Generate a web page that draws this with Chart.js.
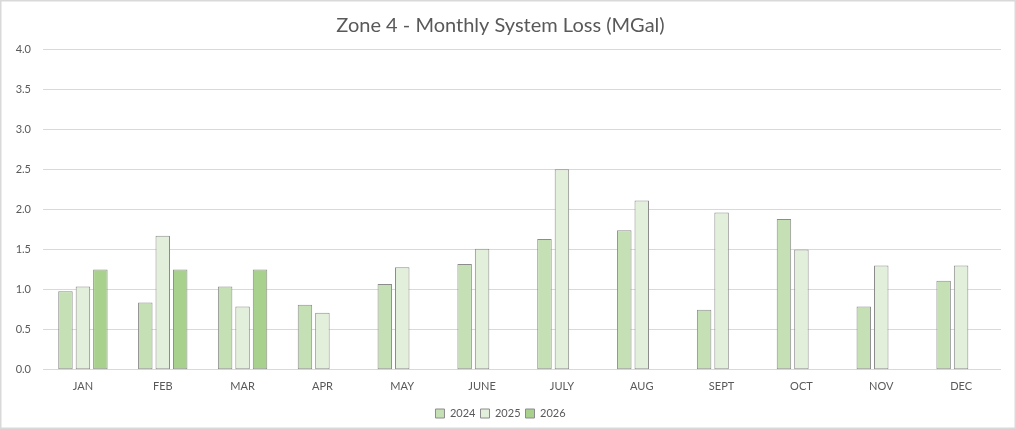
<!DOCTYPE html>
<html>
<head>
<meta charset="utf-8">
<title>Zone 4 - Monthly System Loss (MGal)</title>
<script src="https://cdn.jsdelivr.net/npm/chart.js@4.4.1/dist/chart.umd.min.js"></script>
<style>
  html, body { margin: 0; padding: 0; background: #ffffff; }
  #wrap { width: 1016px; height: 429px; position: relative; }
  canvas { display: block; }
</style>
</head>
<body>
<div id="wrap"><canvas id="chart" width="1016" height="429"></canvas></div>
<script>
// Months along the category axis
const months = ['JAN', 'FEB', 'MAR', 'APR', 'MAY', 'JUNE', 'JULY', 'AUG', 'SEPT', 'OCT', 'NOV', 'DEC'];

// Monthly system loss, million gallons
const loss2024 = [0.98, 0.84, 1.04, 0.81, 1.07, 1.32, 1.63, 1.74, 0.75, 1.88, 0.79, 1.11];
const loss2025 = [1.04, 1.67, 0.79, 0.71, 1.28, 1.51, 2.50, 2.11, 1.96, 1.50, 1.30, 1.30];
const loss2026 = [1.25, 1.25, 1.25, null, null, null, null, null, null, null, null, null];

// Value axis ticks
const yTicks = [0.0, 0.5, 1.0, 1.5, 2.0, 2.5, 3.0, 3.5, 4.0];

const textColor = '#595959';
const gridColor = '#d9d9d9';
const barEdge = '#8c8c8c';
const fontFamily = 'Lato, "Open Sans", "Liberation Sans", sans-serif';

// White background and thin frame around the chart area
const framePlugin = {
  id: 'frame',
  beforeDraw(chart) {
    const { ctx, width, height } = chart;
    ctx.save();
    ctx.fillStyle = '#ffffff';
    ctx.fillRect(0, 0, width, height);
    ctx.restore();
  },
  afterDraw(chart) {
    const { ctx, width, height } = chart;
    ctx.save();
    ctx.strokeStyle = '#d9d9d9';
    ctx.lineWidth = 1.5;
    ctx.strokeRect(0.75, 0.75, width - 1.5, height - 1.5);
    ctx.restore();
  }
};

const series = [
  { label: '2024', data: loss2024, backgroundColor: '#c5e0b4' },
  { label: '2025', data: loss2025, backgroundColor: '#e2efda' },
  { label: '2026', data: loss2026, backgroundColor: '#a9d18e' }
];

new Chart(document.getElementById('chart'), {
  type: 'bar',
  data: {
    labels: months,
    datasets: series.map(s => ({
      label: s.label,
      data: s.data,
      backgroundColor: s.backgroundColor,
      borderColor: barEdge,
      borderWidth: 1,
      borderSkipped: false,
      categoryPercentage: 0.656,
      barPercentage: 0.83
    }))
  },
  plugins: [framePlugin],
  options: {
    responsive: false,
    devicePixelRatio: 1,
    animation: false,
    layout: { padding: { top: 6, right: 15, bottom: 0, left: 0 } },
    plugins: {
      title: {
        display: true,
        text: 'Zone 4 - Monthly System Loss (MGal)',
        color: textColor,
        font: { family: fontFamily, size: 20, weight: 'normal' },
        padding: { top: 8, bottom: 11 }
      },
      legend: {
        position: 'bottom',
        labels: {
          color: textColor,
          font: { family: fontFamily, size: 11 },
          boxWidth: 9,
          boxHeight: 9,
          padding: 5
        }
      },
      tooltip: { enabled: false }
    },
    scales: {
      x: {
        grid: { display: false, drawTicks: false },
        border: { display: false },
        ticks: {
          color: textColor,
          font: { family: fontFamily, size: 11 },
          padding: 10,
          maxRotation: 0
        }
      },
      y: {
        min: 0,
        max: 4,
        afterBuildTicks(scale) {
          scale.ticks = yTicks.map(v => ({ value: v }));
        },
        afterFit(scale) { scale.width = 43; },
        grid: { color: gridColor, lineWidth: 1, drawTicks: false },
        border: { display: false },
        ticks: {
          color: textColor,
          font: { family: fontFamily, size: 11 },
          padding: 12,
          callback: v => Number(v).toFixed(1)
        }
      }
    }
  }
});
</script>
</body>
</html>
